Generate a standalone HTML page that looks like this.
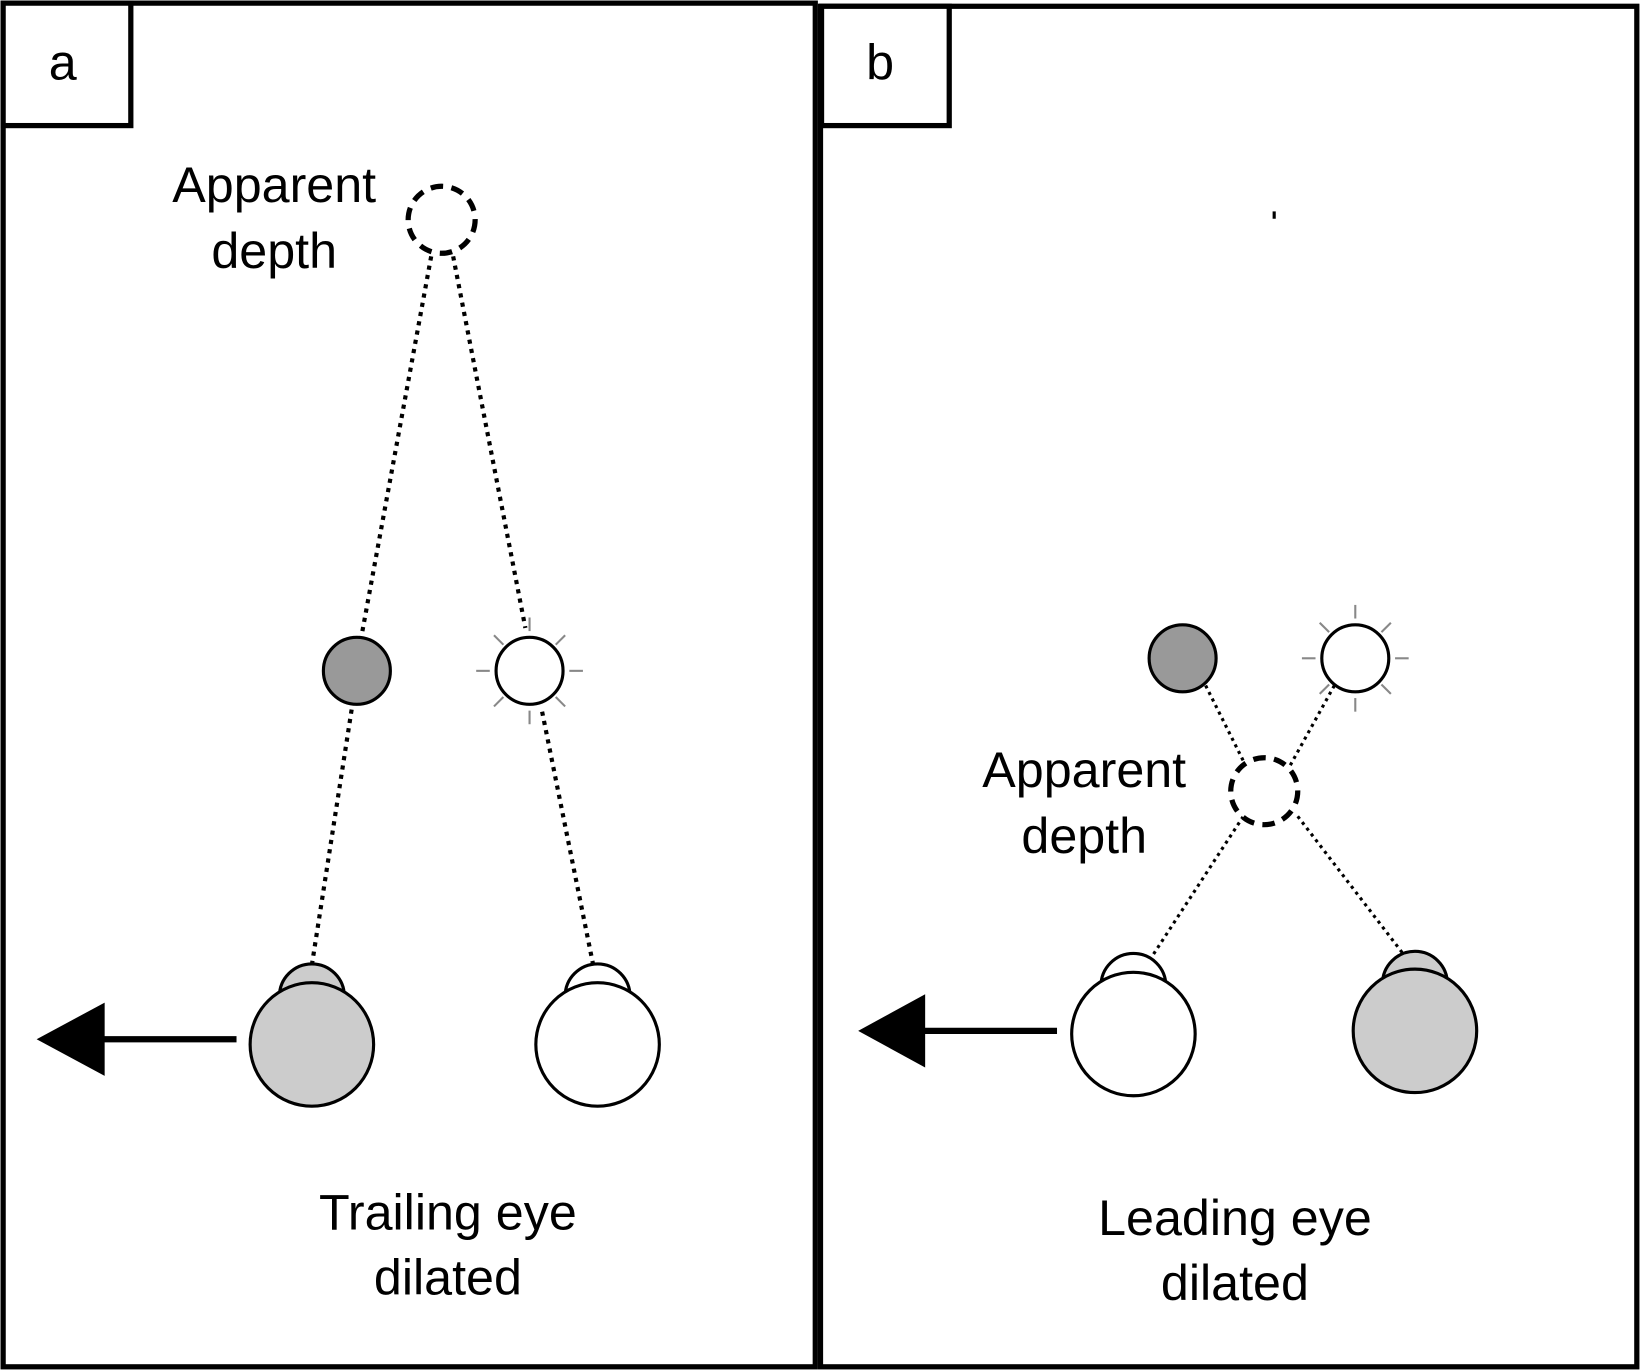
<!DOCTYPE html>
<html><head><style>
html,body{margin:0;padding:0;background:#fff;}
svg{display:block;}
text{font-family:"Liberation Sans",Arial,sans-serif;font-size:48px;fill:#000;}
</style></head><body>
<svg width="1641" height="1371" viewBox="0 0 1568 1310" preserveAspectRatio="none" xmlns="http://www.w3.org/2000/svg">
<rect x="0" y="0" width="1568" height="1310" fill="#fff"/>
<!-- frames -->
<rect x="3" y="3" width="776" height="1303" fill="none" stroke="#000" stroke-width="5"/>
<rect x="784" y="6" width="780" height="1300" fill="none" stroke="#000" stroke-width="5"/>
<rect x="3" y="3" width="122" height="117" fill="#fff" stroke="#000" stroke-width="5"/>
<rect x="785" y="6" width="122" height="114" fill="#fff" stroke="#000" stroke-width="5"/>
<text x="60" y="76" text-anchor="middle" font-size="52">a</text>
<text x="841" y="76" text-anchor="middle" font-size="52">b</text>

<!-- panel a -->
<g stroke="#000" stroke-width="4" stroke-dasharray="4 5" fill="none">
<line x1="412" y1="245" x2="345" y2="610"/>
<line x1="433" y1="245" x2="502" y2="600"/>
<line x1="336" y1="678" x2="298" y2="922"/>
<line x1="518" y1="680" x2="568" y2="928"/>
</g>
<circle cx="422" cy="210" r="32" fill="#fff" stroke="#000" stroke-width="5" stroke-dasharray="12 8"/>
<circle cx="341" cy="641" r="32" fill="#999" stroke="#000" stroke-width="3"/>
<g stroke="#888" stroke-width="2">
<line x1="506" y1="590" x2="506" y2="603"/><line x1="506" y1="679" x2="506" y2="692"/>
<line x1="455" y1="641" x2="468" y2="641"/><line x1="544" y1="641" x2="557" y2="641"/>
<line x1="472" y1="607" x2="481" y2="616"/><line x1="531" y1="666" x2="540" y2="675"/>
<line x1="540" y1="607" x2="531" y2="616"/><line x1="481" y1="666" x2="472" y2="675"/>
</g>
<circle cx="506" cy="641" r="32" fill="#fff" stroke="#000" stroke-width="3"/>
<circle cx="298" cy="952" r="31" fill="#ccc" stroke="#000" stroke-width="3"/>
<circle cx="298" cy="998" r="59" fill="#ccc" stroke="#000" stroke-width="3"/>
<circle cx="571" cy="952" r="31" fill="#fff" stroke="#000" stroke-width="3"/>
<circle cx="571" cy="998" r="59" fill="#fff" stroke="#000" stroke-width="3"/>
<line x1="98" y1="993" x2="226" y2="993" stroke="#000" stroke-width="6"/>
<polygon points="35,993 100,958 100,1028" fill="#000"/>
<text x="262" y="193" text-anchor="middle">Apparent</text>
<text x="262" y="256" text-anchor="middle">depth</text>
<text x="428" y="1175" text-anchor="middle">Trailing eye</text>
<text x="428" y="1237" text-anchor="middle">dilated</text>

<!-- panel b -->
<g stroke="#000" stroke-width="3" stroke-dasharray="3 4" fill="none">
<line x1="1152" y1="655" x2="1192" y2="735"/>
<line x1="1275" y1="655" x2="1228" y2="740"/>
<line x1="1188" y1="780" x2="1087" y2="935"/>
<line x1="1240" y1="780" x2="1355" y2="930"/>
</g>
<circle cx="1208" cy="756" r="32" fill="#fff" stroke="#000" stroke-width="5" stroke-dasharray="12 8"/>
<circle cx="1130" cy="629" r="32" fill="#999" stroke="#000" stroke-width="3"/>
<g stroke="#888" stroke-width="2">
<line x1="1295" y1="578" x2="1295" y2="591"/><line x1="1295" y1="667" x2="1295" y2="680"/>
<line x1="1244" y1="629" x2="1257" y2="629"/><line x1="1333" y1="629" x2="1346" y2="629"/>
<line x1="1261" y1="595" x2="1270" y2="604"/><line x1="1320" y1="654" x2="1329" y2="663"/>
<line x1="1329" y1="595" x2="1320" y2="604"/><line x1="1270" y1="654" x2="1261" y2="663"/>
</g>
<circle cx="1295" cy="629" r="32" fill="#fff" stroke="#000" stroke-width="3"/>
<circle cx="1083" cy="942" r="31" fill="#fff" stroke="#000" stroke-width="3"/>
<circle cx="1083" cy="988" r="59" fill="#fff" stroke="#000" stroke-width="3"/>
<circle cx="1352" cy="940" r="31" fill="#ccc" stroke="#000" stroke-width="3"/>
<circle cx="1352" cy="985" r="59" fill="#ccc" stroke="#000" stroke-width="3"/>
<line x1="882" y1="985" x2="1010" y2="985" stroke="#000" stroke-width="6"/>
<polygon points="820,985 884,950 884,1020" fill="#000"/>
<rect x="1216" y="202" width="3" height="7" fill="#000"/>
<text x="1036" y="752" text-anchor="middle">Apparent</text>
<text x="1036" y="815" text-anchor="middle">depth</text>
<text x="1180" y="1180" text-anchor="middle">Leading eye</text>
<text x="1180" y="1242" text-anchor="middle">dilated</text>
</svg>
</body></html>
